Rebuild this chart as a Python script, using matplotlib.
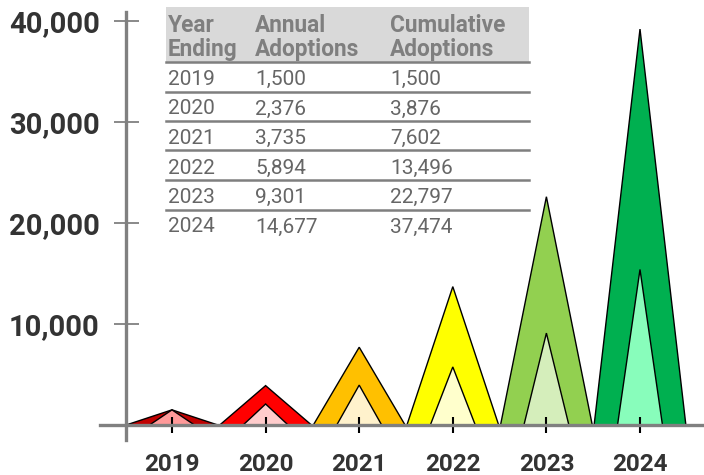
import matplotlib
matplotlib.use("Agg")
import matplotlib.pyplot as plt
from matplotlib.patches import Polygon, Rectangle
from matplotlib.ticker import FuncFormatter

# === Data
years = ["2019", "2020", "2021", "2022", "2023", "2024"]
annual_txt = ["1,500", "2,376", "3,735", "5,894", "9,301", "14,677"]
cumulative_txt = ["1,500", "3,876", "7,602", "13,496", "22,797", "37,474"]
# triangle heights as drawn in the chart
outer_heights = [1500, 3900, 7700, 13700, 22600, 39200]
inner_heights = [1500, 2080, 3950, 5750, 9100, 15400]
outer_colors = ["#c00000", "#ff0000", "#ffc000", "#ffff00", "#92d050", "#00b050"]
inner_colors = ["#ff9999", "#ffcccc", "#fff2cc", "#ffffcc", "#d5eebb", "#88fdbb"]
y_ticks = [10000, 20000, 30000, 40000]

plt.rcParams['font.family'] = ['Roboto', 'DejaVu Sans']

W, H = 704, 475
fig = plt.figure(figsize=(W / 100, H / 100), dpi=100)


def fx(px):
    return px / W


def fy(py):
    return 1 - py / H


# === Axes placed in pixel terms
ax = fig.add_axes([fx(100), fy(440), fx(704) - fx(100), fy(12) - fy(440)])
step = 93.6
ax.set_xlim((100 - 172) / step, (704 - 172) / step)
ax.set_ylim(-(440 - 425) / 101 * 10000, (425 - 12) / 101 * 10000)

for i in range(len(years)):
    outer = Polygon([(i - 0.49, 0), (i, outer_heights[i]), (i + 0.49, 0)],
                    closed=True, facecolor=outer_colors[i], edgecolor='black', lw=1, zorder=1)
    inner = Polygon([(i - 0.24, 0), (i, inner_heights[i]), (i + 0.24, 0)],
                    closed=True, facecolor=inner_colors[i], edgecolor='black', lw=1, zorder=1.1)
    ax.add_patch(outer)
    ax.add_patch(inner)

# === Spines
for s in ['top', 'right']:
    ax.spines[s].set_visible(False)
ax.spines['left'].set_position(('axes', 26 / 604))
ax.spines['bottom'].set_position(('data', 0))
for s in ['left', 'bottom']:
    ax.spines[s].set_color('#808080')
    ax.spines[s].set_linewidth(2.4)

ax.set_yticks(y_ticks)
ax.yaxis.set_major_formatter(FuncFormatter(lambda v, p: f"{int(v):,}"))
ax.tick_params(axis='y', direction='inout', length=18, width=1.3, color='#808080',
               pad=10, labelsize=21, labelcolor='#333333')
for lab in ax.get_yticklabels():
    lab.set_fontweight('bold')

ax.set_xticks(range(len(years)))
ax.set_xticklabels(years, fontweight='bold')
ax.tick_params(axis='x', direction='inout', length=12, width=1.5, color='black',
               pad=14, labelsize=17.5, labelcolor='#333333')

# === Table
tx0, tx1 = 166, 529
fig.patches.append(Rectangle((fx(tx0), fy(62)), fx(tx1) - fx(tx0), fy(7) - fy(62),
                             transform=fig.transFigure, facecolor='#d9d9d9', edgecolor='none'))
col_x = [168, 255, 390]
headers = [("Year", "Ending"), ("Annual", "Adoptions"), ("Cumulative", "Adoptions")]
for cx, (h1, h2) in zip(col_x, headers):
    fig.text(fx(cx), fy(32), h1, ha='left', va='baseline', fontsize=16.3, fontweight='bold',
             color='#7f7f7f')
    fig.text(fx(cx), fy(56), h2, ha='left', va='baseline', fontsize=16.3, fontweight='bold',
             color='#7f7f7f')

row_h = 29.5
for r in range(len(years)):
    line_y = 62 + r * row_h
    fig.add_artist(plt.Line2D([fx(tx0), fx(tx1)], [fy(line_y), fy(line_y)],
                              transform=fig.transFigure, color='#7f7f7f', lw=1.8))
    base = line_y + 23
    for cx, t in zip(col_x, [years[r], annual_txt[r], cumulative_txt[r]]):
        fig.text(fx(cx), fy(base), t, ha='left', va='baseline', fontsize=15, color='#666666')

fig.savefig("out.png", dpi=100)
